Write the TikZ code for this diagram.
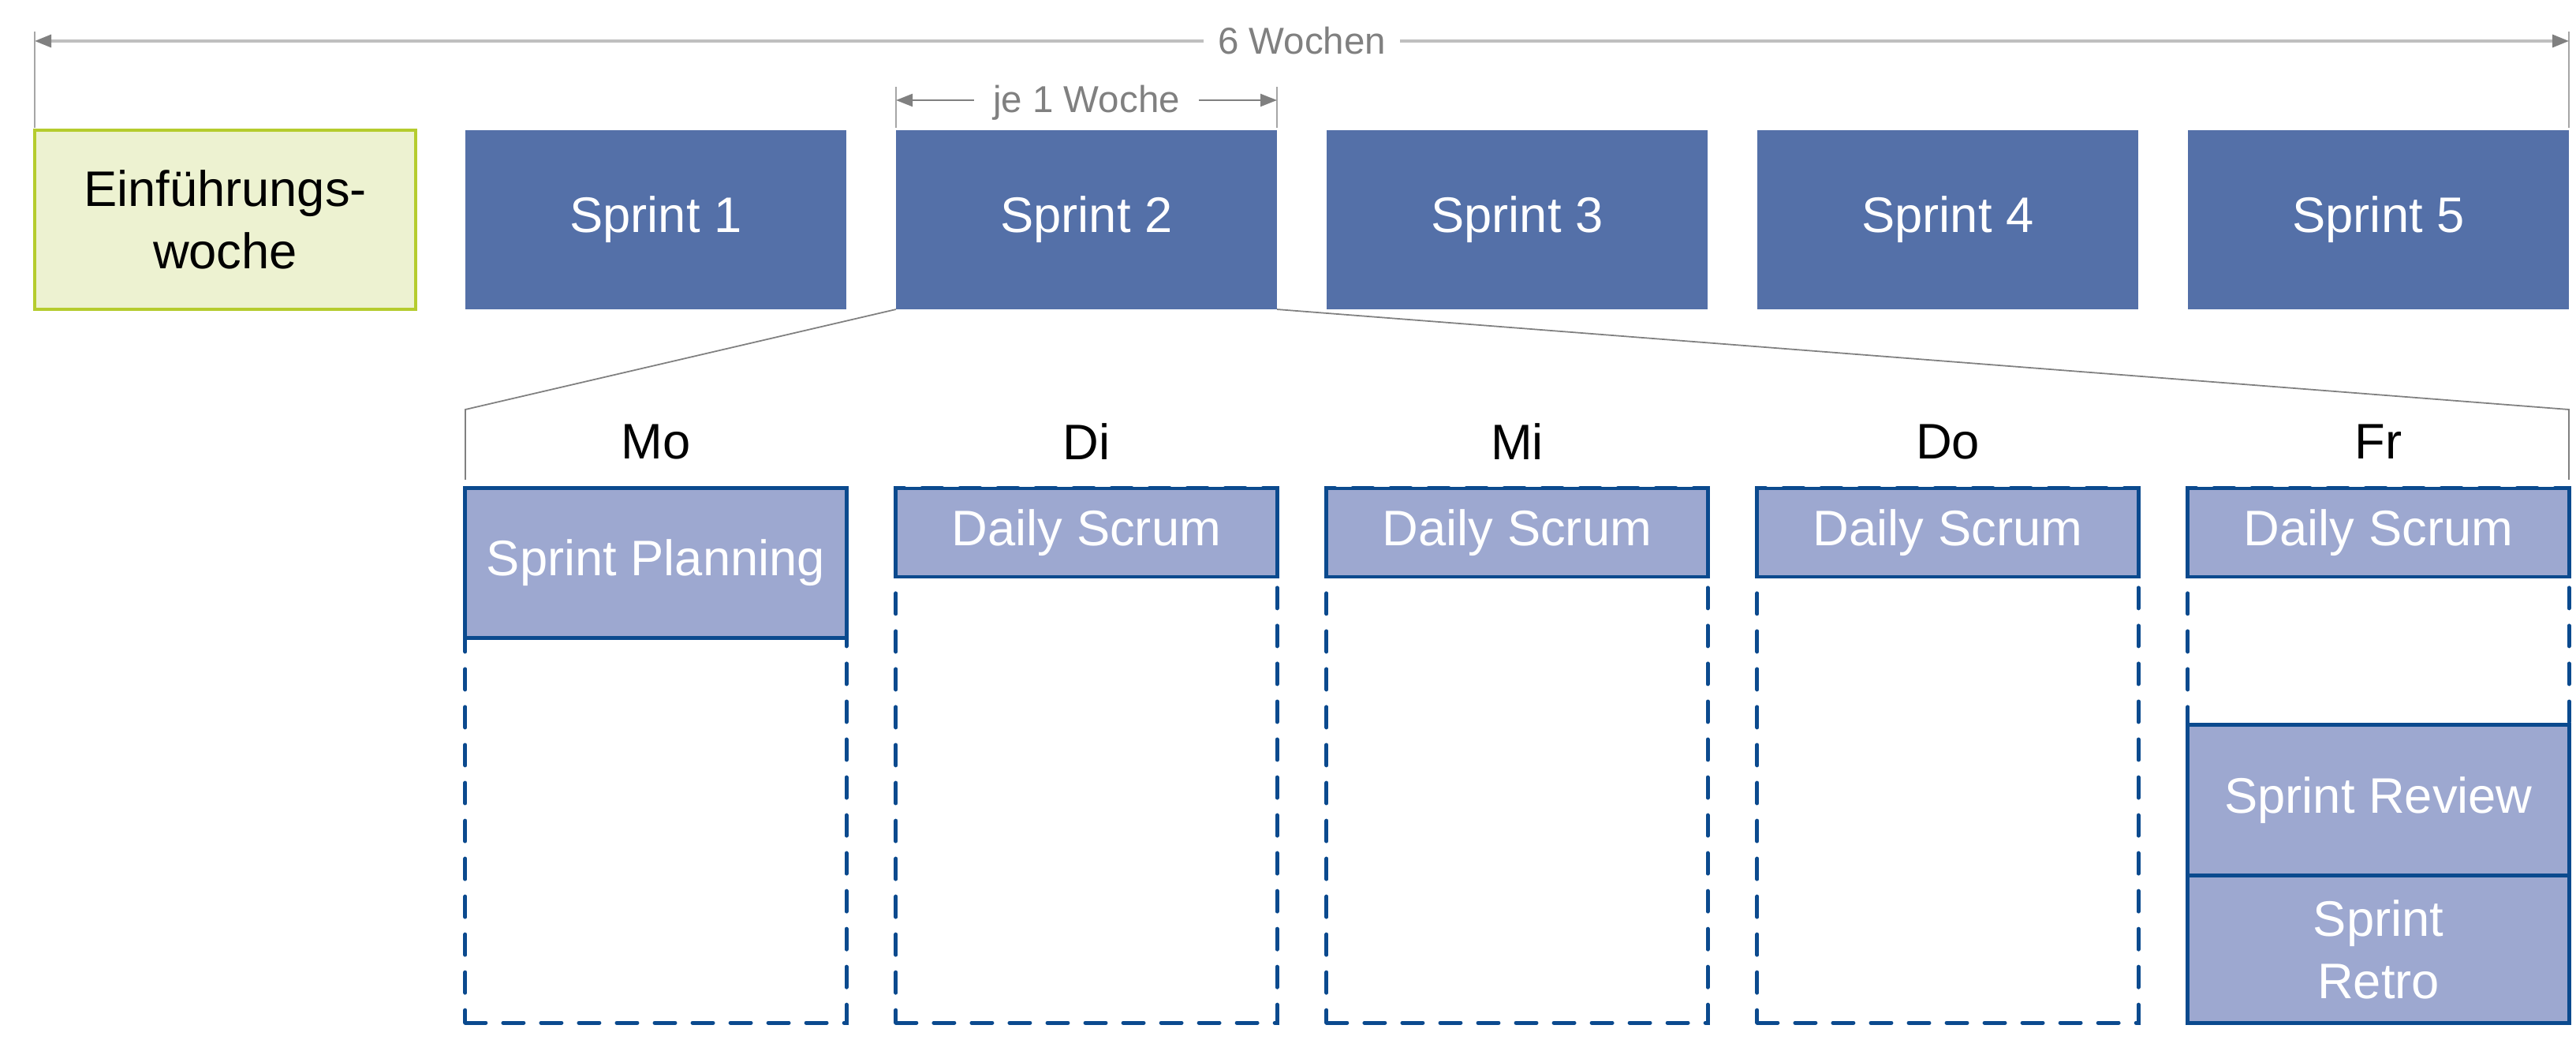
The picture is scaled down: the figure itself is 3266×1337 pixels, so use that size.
\documentclass[tikz,border=0pt]{standalone}
\usepackage{fontspec}
\setmainfont{Liberation Sans}
\usetikzlibrary{arrows.meta}
\definecolor{sprintblue}{HTML}{5470A8}
\definecolor{lightblue}{HTML}{9DA8D0}
\definecolor{darkblue}{HTML}{0B4A8E}
\definecolor{greenborder}{HTML}{B5CC2E}
\definecolor{greenfill}{HTML}{EDF2D1}
\definecolor{dimgrey}{HTML}{808080}
\definecolor{linegrey}{HTML}{BFBFBF}
\definecolor{tickgrey}{HTML}{A6A6A6}
\begin{document}
\begin{tikzpicture}[x=0.01cm,y=-0.01cm,
  bigtext/.style={font=\fontsize{18}{22.5}\selectfont, align=center},
  smalltext/.style={font=\fontsize{13.5}{16}\selectfont, text=dimgrey},
  sprintbox/.style={rectangle, fill=sprintblue, text=white, minimum width=4.83cm, minimum height=2.27cm, inner sep=0pt, outer sep=0pt, bigtext},
  introbox/.style={rectangle, draw=greenborder, line width=1.2pt, fill=greenfill, text=black, minimum width=4.83cm, minimum height=2.27cm, inner sep=0pt, outer sep=0pt, bigtext},
  eventbox/.style={rectangle, draw=darkblue, line width=1.4pt, fill=lightblue, text=white, minimum width=4.83cm, inner sep=0pt, outer sep=0pt, bigtext},
  dayframe/.style={rectangle, draw=darkblue, line width=1.4pt, dash pattern=on 0.26cm off 0.22cm, line cap=round, minimum width=4.83cm, minimum height=6.77cm, inner sep=0pt, outer sep=0pt},
  daylabel/.style={bigtext, text=black},
  tickline/.style={draw=tickgrey, line width=0.5pt},
  zoomline/.style={draw=dimgrey, line width=0.5pt},
  dimarrow/.style={line width=0.9pt, {Triangle[length=0.21cm,width=0.16cm,fill=dimgrey,color=dimgrey]}-{Triangle[length=0.21cm,width=0.16cm,fill=dimgrey,color=dimgrey]}}
]
\useasboundingbox (0,0) rectangle (3266,1337);

% 6 Wochen dimension
\coordinate (tlTop) at (44,40);
\coordinate (tlBot) at (44,162);
\coordinate (trTop) at (3257,40);
\coordinate (trBot) at (3257,162);
\coordinate (aL) at (44,52);
\coordinate (aR) at (3257,52);
\draw[tickline] (tlTop) -- (tlBot);
\draw[tickline] (trTop) -- (trBot);
\draw[dimarrow, draw=linegrey] (aL) -- node[smalltext, fill=white, inner xsep=5pt, inner ysep=1pt] (six) {6 Wochen} (aR);

% je 1 Woche dimension
\coordinate (jlTop) at (1136,110);
\coordinate (jlBot) at (1136,162);
\coordinate (jrTop) at (1619,110);
\coordinate (jrBot) at (1619,162);
\coordinate (jL) at (1136,127);
\coordinate (jR) at (1619,127);
\draw[tickline] (jlTop) -- (jlBot);
\draw[tickline] (jrTop) -- (jrBot);
\draw[dimarrow, draw=dimgrey, line width=0.6pt] (jL) -- node[smalltext, fill=white, inner xsep=7pt, inner ysep=1pt, yshift=-1pt] (je) {je 1 Woche} (jR);

% top row
\node[introbox] (intro) at (285.5,278.5) {Einführungs-\\woche};
\node[sprintbox] (s1) at (831.5,278.5) {Sprint 1};
\node[sprintbox] (s2) at (1377.5,278.5) {Sprint 2};
\node[sprintbox] (s3) at (1923.5,278.5) {Sprint 3};
\node[sprintbox] (s4) at (2469.5,278.5) {Sprint 4};
\node[sprintbox] (s5) at (3015.5,278.5) {Sprint 5};

% zoom lines
\coordinate (zl1) at (590,519);
\coordinate (zl2) at (590,608);
\coordinate (zr1) at (3257,519);
\coordinate (zr2) at (3257,608);
\draw[zoomline] (s2.south west) -- (zl1) -- (zl2);
\draw[zoomline] (s2.south east) -- (zr1) -- (zr2);

% day labels
\node[daylabel] (mo) at (831.5,560) {Mo};
\node[daylabel] (di) at (1377.5,560) {Di};
\node[daylabel] (mi) at (1923.5,560) {Mi};
\node[daylabel] (do) at (2469.5,560) {Do};
\node[daylabel] (fr) at (3015.5,560) {Fr};

% day frames
\node[dayframe] (fmo) at (831.5,957.5) {};
\node[dayframe] (fdi) at (1377.5,957.5) {};
\node[dayframe] (fmi) at (1923.5,957.5) {};
\node[dayframe] (fdo) at (2469.5,957.5) {};
\node[dayframe] (ffr) at (3015.5,957.5) {};

% events
\node[eventbox, minimum height=1.89cm] (plan) at (831.5,713.5) {Sprint Planning};
\node[eventbox, minimum height=1.12cm] (ds2) at (1377.5,675) {Daily Scrum};
\node[eventbox, minimum height=1.12cm] (ds3) at (1923.5,675) {Daily Scrum};
\node[eventbox, minimum height=1.12cm] (ds4) at (2469.5,675) {Daily Scrum};
\node[eventbox, minimum height=1.12cm] (ds5) at (3015.5,675) {Daily Scrum};
\node[eventbox, minimum height=1.91cm] (review) at (3015.5,1014.5) {Sprint Review};
\node[eventbox, minimum height=1.86cm] (retro) at (3015.5,1203) {Sprint\\Retro};
\end{tikzpicture}
\end{document}
